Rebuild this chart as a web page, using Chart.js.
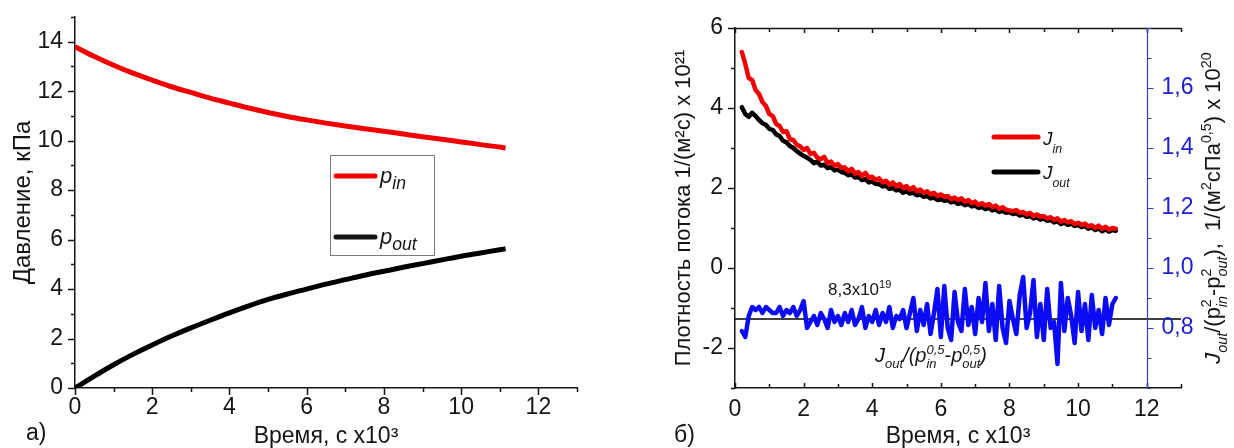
<!DOCTYPE html>
<html>
<head>
<meta charset="utf-8">
<script src="https://cdn.jsdelivr.net/npm/chart.js@4.4.1/dist/chart.umd.min.js"></script>
<style>
  html, body { margin: 0; padding: 0; background: #fff; }
  #wrap { position: relative; width: 1234px; height: 448px; }
  #pressureChart { position: absolute; left: 0; top: 0; }
  #fluxChart { position: absolute; left: 620px; top: 0; }
</style>
</head>
<body>
<div id="wrap">
  <canvas id="pressureChart" width="620" height="448"></canvas>
  <canvas id="fluxChart" width="614" height="448"></canvas>
</div>
<script>
// ---- panel a): pressures, kPa vs time x10^3 s
const pTime = [0, 0.5, 1, 1.5, 2, 2.5, 3, 3.5, 4, 4.5, 5, 5.5, 6, 6.5, 7, 7.5, 8, 8.5, 9, 9.5, 10, 10.5, 11, 11.15];
const pIn = [13.8, 13.4, 13.05, 12.73, 12.45, 12.18, 11.95, 11.72, 11.52, 11.32, 11.14, 10.98, 10.84, 10.71, 10.59, 10.48, 10.38, 10.27, 10.16, 10.06, 9.95, 9.84, 9.74, 9.7];
const pOut = [0, 0.48, 0.94, 1.36, 1.74, 2.1, 2.43, 2.74, 3.04, 3.32, 3.58, 3.8, 4.0, 4.2, 4.38, 4.56, 4.72, 4.88, 5.03, 5.18, 5.33, 5.46, 5.59, 5.63];

// ---- panel б): flux densities x10^21 and J_out/(p_in^0,5 - p_out^0,5) x10^20
const jTime = [
  0.2, 0.3, 0.4, 0.5, 0.6, 0.7, 0.8, 0.9, 1.0, 1.1,
  1.2, 1.3, 1.4, 1.5, 1.6, 1.7, 1.8, 1.9, 2.0, 2.1,
  2.2, 2.3, 2.4, 2.5, 2.6, 2.7, 2.8, 2.9, 3.0, 3.1,
  3.2, 3.3, 3.4, 3.5, 3.6, 3.7, 3.8, 3.9, 4.0, 4.1,
  4.2, 4.3, 4.4, 4.5, 4.6, 4.7, 4.8, 4.9, 5.0, 5.1,
  5.2, 5.3, 5.4, 5.5, 5.6, 5.7, 5.8, 5.9, 6.0, 6.1,
  6.2, 6.3, 6.4, 6.5, 6.6, 6.7, 6.8, 6.9, 7.0, 7.1,
  7.2, 7.3, 7.4, 7.5, 7.6, 7.7, 7.8, 7.9, 8.0, 8.1,
  8.2, 8.3, 8.4, 8.5, 8.6, 8.7, 8.8, 8.9, 9.0, 9.1,
  9.2, 9.3, 9.4, 9.5, 9.6, 9.7, 9.8, 9.9, 10.0, 10.1,
  10.2, 10.3, 10.4, 10.5, 10.6, 10.7, 10.8, 10.9, 11.0, 11.1
];
const jIn = [
  5.40, 5.10, 4.75, 4.70, 4.45, 4.35, 4.15, 4.05, 3.85, 3.80,
  3.60, 3.55, 3.40, 3.42, 3.22, 3.20, 3.08, 3.04, 2.95, 3.00,
  2.85, 2.88, 2.76, 2.72, 2.78, 2.62, 2.66, 2.56, 2.60, 2.50,
  2.52, 2.42, 2.48, 2.36, 2.40, 2.30, 2.38, 2.26, 2.28, 2.20,
  2.24, 2.14, 2.18, 2.08, 2.14, 2.04, 2.10, 2.00, 2.05, 1.96,
  2.02, 1.92, 1.96, 1.88, 1.92, 1.84, 1.88, 1.80, 1.84, 1.78,
  1.80, 1.72, 1.76, 1.70, 1.74, 1.66, 1.70, 1.62, 1.66, 1.58,
  1.62, 1.56, 1.60, 1.52, 1.56, 1.48, 1.52, 1.46, 1.44, 1.42,
  1.45, 1.38, 1.40, 1.34, 1.38, 1.30, 1.34, 1.28, 1.30, 1.24,
  1.27, 1.20, 1.24, 1.16, 1.20, 1.14, 1.17, 1.10, 1.13, 1.08,
  1.11, 1.04, 1.07, 1.00, 1.06, 0.98, 1.03, 0.96, 1.00, 0.98
];
const jOut = [
  4.02, 3.85, 3.78, 3.88, 3.80, 3.70, 3.62, 3.58, 3.48, 3.45,
  3.34, 3.30, 3.18, 3.14, 3.05, 3.00, 2.92, 2.86, 2.80, 2.76,
  2.70, 2.62, 2.66, 2.56, 2.58, 2.50, 2.52, 2.44, 2.46, 2.40,
  2.38, 2.32, 2.34, 2.26, 2.28, 2.20, 2.22, 2.14, 2.16, 2.10,
  2.10, 2.04, 2.06, 1.98, 2.00, 1.94, 1.96, 1.88, 1.92, 1.86,
  1.88, 1.82, 1.84, 1.78, 1.80, 1.74, 1.76, 1.70, 1.72, 1.68,
  1.70, 1.64, 1.66, 1.60, 1.63, 1.57, 1.60, 1.54, 1.56, 1.50,
  1.53, 1.47, 1.50, 1.44, 1.46, 1.40, 1.43, 1.38, 1.40, 1.35,
  1.37, 1.31, 1.34, 1.28, 1.30, 1.24, 1.27, 1.21, 1.24, 1.18,
  1.20, 1.14, 1.17, 1.10, 1.14, 1.08, 1.11, 1.05, 1.08, 1.02,
  1.05, 0.98, 1.02, 0.95, 0.99, 0.92, 0.97, 0.91, 0.95, 0.93
];
const jRatio = [
  0.79, 0.77, 0.84, 0.87, 0.86, 0.87, 0.85, 0.87, 0.86, 0.85,
  0.85, 0.87, 0.84, 0.86, 0.85, 0.87, 0.84, 0.86, 0.89, 0.80,
  0.82, 0.84, 0.81, 0.85, 0.83, 0.80, 0.86, 0.82, 0.84, 0.81,
  0.85, 0.82, 0.86, 0.81, 0.83, 0.87, 0.80, 0.84, 0.82, 0.86,
  0.81, 0.85, 0.82, 0.87, 0.80, 0.84, 0.83, 0.86, 0.80, 0.85,
  0.90, 0.79, 0.86, 0.81, 0.88, 0.78, 0.85, 0.93, 0.77, 0.94,
  0.80, 0.76, 0.92, 0.82, 0.79, 0.93, 0.81, 0.87, 0.78, 0.90,
  0.82, 0.95, 0.79, 0.88, 0.76, 0.94, 0.80, 0.75, 0.89, 0.83,
  0.78, 0.91, 0.97, 0.80, 0.85, 0.96, 0.77, 0.88, 0.76, 0.93,
  0.80, 0.82, 0.68, 0.95, 0.79, 0.90, 0.84, 0.75, 0.92, 0.79,
  0.88, 0.76, 0.91, 0.80, 0.86, 0.78, 0.90, 0.81, 0.88, 0.90
];
const refLevel = 0.83;      // 8,3x10^19 = 0,83x10^20
const blueTicks = [0.6, 0.7, 0.8, 0.9, 1.0, 1.1, 1.2, 1.3, 1.4, 1.5, 1.6, 1.7, 1.8];
const blueLabels = { 0.8: '0,8', 1.0: '1,0', 1.2: '1,2', 1.4: '1,4', 1.6: '1,6' };

const FONT = '"Liberation Sans", Arial, sans-serif';
const INK = '#151515';
const RED = '#f00000';
const BLUE = '#0b0bf5';

const pts = (xs, ys) => xs.map((x, i) => ({ x, y: ys[i] }));
const evenLabel = max => v => (v % 2 === 0 && v <= max ? String(v) : '');
// keep the plot area exactly where the layout padding puts it
const noEdgePad = s => { s.paddingTop = 0; s.paddingBottom = 0; s.paddingLeft = 0; s.paddingRight = 0; };

function runFont(size, italic) {
  return (italic ? 'italic ' : '') + size.toFixed(1) + 'px ' + FONT;
}

// draw text made of runs (normal / sub / sup / stacked sup+sub), baseline at (x, y)
function drawRich(ctx, runs, x, y, size, color, opt = {}) {
  const small = size * (opt.small || 0.65);
  const subDy = size * (opt.subDy || 0.3);
  const supDy = -size * (opt.supDy || 0.42);
  const parts = [];
  let w = 0;
  runs.forEach(r => {
    const pieces = [];
    if (r.t !== undefined) pieces.push({ t: r.t, fs: (r.sub || r.sup) ? small : size, dy: r.sub ? subDy : r.sup ? supDy : 0, it: !!r.i });
    if (r.up !== undefined) pieces.push({ t: r.up, fs: small, dy: supDy, it: !!r.i });
    if (r.dn !== undefined) pieces.push({ t: r.dn, fs: small, dy: subDy, it: true });
    let adv = 0;
    pieces.forEach(p => { ctx.font = runFont(p.fs, p.it); adv = Math.max(adv, ctx.measureText(p.t).width); });
    parts.push({ pieces, x: w });
    w += adv;
  });
  ctx.save();
  ctx.translate(x, y);
  if (opt.rotate) ctx.rotate(-Math.PI / 2);
  ctx.fillStyle = color;
  ctx.textAlign = 'left';
  ctx.textBaseline = 'alphabetic';
  const x0 = opt.align === 'center' ? -w / 2 : 0;
  parts.forEach(part => part.pieces.forEach(p => {
    ctx.font = runFont(p.fs, p.it);
    ctx.fillText(p.t, x0 + part.x, p.dy);
  }));
  ctx.restore();
}

function tickLines(ctx, scale, fixed, vertical, dir, major, minor) {
  scale.ticks.forEach(t => {
    const len = t.value % 2 === 0 ? major : minor;
    const p = Math.round(scale.getPixelForValue(t.value)) + 0.5;
    if (vertical) { ctx.moveTo(fixed, p); ctx.lineTo(fixed + dir * len, p); }
    else { ctx.moveTo(p, fixed); ctx.lineTo(p, fixed + dir * len); }
  });
}

function legendLine(ctx, x1, x2, y, color) {
  ctx.strokeStyle = color;
  ctx.lineWidth = 5;
  ctx.lineCap = 'round';
  ctx.beginPath();
  ctx.moveTo(x1, y);
  ctx.lineTo(x2, y);
  ctx.stroke();
}

// ---- decorations for panel a)
const pressureDecor = {
  id: 'pressureDecor',
  afterDraw(chart) {
    const { ctx, chartArea: area, scales: { x, y } } = chart;
    ctx.save();
    ctx.strokeStyle = INK;
    ctx.lineWidth = 1.5;
    ctx.beginPath();
    tickLines(ctx, y, area.left, true, -1, 7, 4);
    tickLines(ctx, x, area.bottom, false, 1, 7, 4);
    ctx.stroke();

    // legend
    ctx.strokeStyle = '#7a7a7a';
    ctx.lineWidth = 1;
    ctx.strokeRect(330.5, 155.5, 104, 100);
    legendLine(ctx, 336, 375, 176, RED);
    legendLine(ctx, 336, 375, 237, INK);
    drawRich(ctx, [{ t: 'p', i: 1 }, { t: 'in', sub: 1, i: 1 }], 380, 183, 22, INK, { small: 0.8, subDy: 0.28 });
    drawRich(ctx, [{ t: 'p', i: 1 }, { t: 'out', sub: 1, i: 1 }], 380, 244, 22, INK, { small: 0.8, subDy: 0.28 });

    ctx.fillStyle = INK;
    ctx.font = '23px ' + FONT;
    ctx.textBaseline = 'alphabetic';
    ctx.fillText('а)', 26, 440);
    ctx.restore();
  }
};

new Chart(document.getElementById('pressureChart'), {
  type: 'line',
  data: {
    datasets: [
      { label: 'p_in', data: pts(pTime, pIn), borderColor: RED, borderWidth: 5, pointRadius: 0, cubicInterpolationMode: 'monotone' },
      { label: 'p_out', data: pts(pTime, pOut), borderColor: '#000', borderWidth: 5, pointRadius: 0, cubicInterpolationMode: 'monotone' }
    ]
  },
  options: {
    responsive: false,
    animation: false,
    devicePixelRatio: 1,
    layout: { padding: { top: 17, right: 43, left: 0, bottom: 0 } },
    plugins: { legend: { display: false }, tooltip: { enabled: false } },
    scales: {
      x: {
        type: 'linear', min: 0, max: 13,
        afterFit: s => { s.height = 60; noEdgePad(s); },
        grid: { display: false, drawTicks: false },
        border: { display: true, color: INK, width: 1.5 },
        ticks: { stepSize: 1, autoSkip: false, maxRotation: 0, padding: 6, color: INK, font: { family: FONT, size: 23 }, callback: evenLabel(12) },
        title: { display: true, text: 'Время, с x10³', color: INK, font: { family: FONT, size: 23, lineHeight: 1 }, padding: { top: 0, bottom: 0 } }
      },
      y: {
        type: 'linear', min: 0, max: 15,
        afterFit: s => { s.width = 75; noEdgePad(s); },
        grid: { display: false, drawTicks: false },
        border: { display: true, color: INK, width: 1.5 },
        ticks: { stepSize: 1, autoSkip: false, padding: 12, color: INK, font: { family: FONT, size: 23 }, callback: evenLabel(14) },
        title: { display: true, text: 'Давление, кПа', color: INK, font: { family: FONT, size: 24, lineHeight: 1 }, padding: { top: 11, bottom: 0 } }
      }
    }
  },
  plugins: [pressureDecor]
});

// ---- decorations for panel б)
const fluxDecor = {
  id: 'fluxDecor',
  afterDraw(chart) {
    const { ctx, chartArea: area, scales: { x, y, yR } } = chart;
    ctx.save();
    ctx.strokeStyle = INK;
    ctx.lineWidth = 1.5;
    ctx.beginPath();
    ctx.moveTo(area.left, area.top + 0.5);
    ctx.lineTo(area.right, area.top + 0.5);
    tickLines(ctx, y, area.left, true, -1, 7, 4);
    tickLines(ctx, x, area.top, false, 1, 5, 4);
    tickLines(ctx, x, area.bottom, false, -1, 5, 4);
    ctx.stroke();

    // right-hand blue axis standing at x = 12
    const bx = Math.round(x.getPixelForValue(12)) + 0.5;
    ctx.strokeStyle = '#3a3ac8';
    ctx.lineWidth = 1.2;
    ctx.beginPath();
    ctx.moveTo(bx, area.top);
    ctx.lineTo(bx, area.bottom);
    blueTicks.forEach(v => {
      const py = Math.round(yR.getPixelForValue(v)) + 0.5;
      ctx.moveTo(bx, py);
      ctx.lineTo(bx + (blueLabels[v] ? 6 : 4), py);
    });
    ctx.stroke();
    ctx.fillStyle = '#1c1cd0';
    ctx.font = '23px ' + FONT;
    ctx.textBaseline = 'middle';
    blueTicks.forEach(v => {
      if (blueLabels[v]) ctx.fillText(blueLabels[v], bx + 14, yR.getPixelForValue(v));
    });

    drawRich(ctx, [
      { t: 'J', i: 1 }, { t: 'out', sub: 1, i: 1 }, { t: '/(p' }, { up: '2', dn: 'in' }, { t: '-p' }, { up: '2', dn: 'out' },
      { t: '),  1/(м' }, { t: '2', sup: 1 }, { t: 'сПа' }, { t: '0,5', sup: 1 }, { t: ') x 10' }, { t: '20', sup: 1 }
    ], 600, 208, 22, INK, { rotate: true, align: 'center' });

    // legend
    legendLine(ctx, 374, 418, 137, RED);
    legendLine(ctx, 374, 418, 172, '#000');
    drawRich(ctx, [{ t: 'J', i: 1 }, { t: 'in', sub: 1, i: 1 }], 423, 145, 19, INK, { subDy: 0.4 });
    drawRich(ctx, [{ t: 'J', i: 1 }, { t: 'out', sub: 1, i: 1 }], 423, 179, 19, INK, { subDy: 0.4 });

    // annotations
    drawRich(ctx, [{ t: '8,3x10' }, { t: '19', sup: 1 }], 208, 295, 17, INK);
    drawRich(ctx, [
      { t: 'J', i: 1 }, { t: 'out', sub: 1, i: 1 }, { t: '/(', i: 1 }, { t: 'p', i: 1 }, { up: '0,5', dn: 'in', i: 1 },
      { t: '-' }, { t: 'p', i: 1 }, { up: '0,5', dn: 'out', i: 1 }, { t: ')', i: 1 }
    ], 255, 362, 20, INK);

    ctx.fillStyle = INK;
    ctx.font = '23px ' + FONT;
    ctx.textBaseline = 'alphabetic';
    ctx.fillText('б)', 54, 442);
    ctx.restore();
  }
};

const lineStyle = { pointRadius: 0, borderWidth: 4.5, borderJoinStyle: 'round', borderCapStyle: 'round' };

new Chart(document.getElementById('fluxChart'), {
  type: 'line',
  data: {
    datasets: [
      { label: 'J_in', data: pts(jTime, jIn), borderColor: RED, yAxisID: 'y', ...lineStyle },
      { label: 'J_out', data: pts(jTime, jOut), borderColor: '#000', yAxisID: 'y', ...lineStyle },
      { label: 'ratio', data: pts(jTime, jRatio), borderColor: BLUE, yAxisID: 'yR', ...lineStyle },
      { label: 'level', data: [{ x: 0, y: refLevel }, { x: 13, y: refLevel }], borderColor: '#000', borderWidth: 1.5, pointRadius: 0, yAxisID: 'yR' }
    ]
  },
  options: {
    responsive: false,
    animation: false,
    devicePixelRatio: 1,
    layout: { padding: { top: 28, right: 53, left: 0, bottom: 0 } },
    plugins: { legend: { display: false }, tooltip: { enabled: false } },
    scales: {
      x: {
        type: 'linear', min: 0, max: 13,
        afterFit: s => { s.height = 60; noEdgePad(s); },
        grid: { display: false, drawTicks: false },
        border: { display: true, color: INK, width: 1.5 },
        ticks: { stepSize: 1, autoSkip: false, maxRotation: 0, padding: 8, color: INK, font: { family: FONT, size: 23 }, callback: evenLabel(12) },
        title: { display: true, text: 'Время, с x10³', color: INK, font: { family: FONT, size: 23, lineHeight: 1 }, padding: { top: 0, bottom: 0 } }
      },
      y: {
        type: 'linear', position: 'left', min: -3, max: 6,
        afterFit: s => { s.width = 115; noEdgePad(s); },
        grid: { display: false, drawTicks: false },
        border: { display: true, color: INK, width: 1.5 },
        ticks: { stepSize: 1, autoSkip: false, padding: 12, color: INK, font: { family: FONT, size: 23 }, callback: v => (v % 2 === 0 ? String(v) : '') },
        title: { display: true, text: 'Плотность потока 1/(м²с) x 10²¹', color: INK, font: { family: FONT, size: 22, lineHeight: 1 }, padding: { top: 53, bottom: 0 } }
      },
      yR: { type: 'linear', position: 'right', display: false, min: 0.6, max: 1.8 }
    }
  },
  plugins: [fluxDecor]
});
</script>
</body>
</html>
